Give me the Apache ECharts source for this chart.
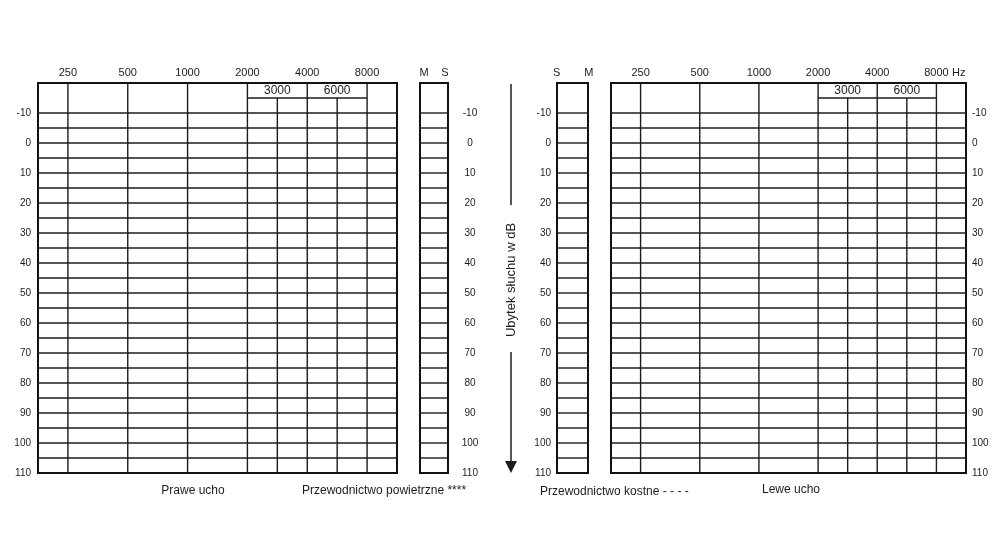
<!DOCTYPE html>
<html><head><meta charset="utf-8">
<script src="https://cdn.jsdelivr.net/npm/echarts@6/dist/echarts.min.js"></script>
<style>html,body{margin:0;padding:0;background:#fff}#c{width:1000px;height:546px}</style>
</head><body><div id="c"></div>
<script>
// ---- data ----
const freqLabels = ['250', '500', '1000', '2000', '4000', '8000'];
const freqPos = [0, 1, 2, 3, 4, 5];
const halfFreqLabels = ['3000', '6000'];
const halfFreqPos = [3.5, 4.5];
const headerSpan = [3, 5];          // header row spans 2000..8000
const gridLevels = [-10, -5, 0, 5, 10, 15, 20, 25, 30, 35, 40, 45, 50, 55, 60, 65, 70, 75, 80, 85, 90, 95, 100, 105];
const headerLevel = -15;
const headerLabelLevel = -17.5;
const dbMin = -20, dbMax = 110, dbStep = 10;
const leftStripLabels = ['M', 'S'];
const rightStripLabels = ['S', 'M'];

const FONT = 'Liberation Sans, Arial, sans-serif';
const INK = '#1c1c1c';
const LW = 1.4;

function hLines(xi, yi, x0, x1, levels) {
  return {
    type: 'custom', xAxisIndex: xi, yAxisIndex: yi, silent: true,
    data: levels.map(v => [v]),
    renderItem: (params, api) => {
      const v = api.value(0);
      const a = api.coord([x0, v]), b = api.coord([x1, v]);
      return { type: 'line', shape: { x1: a[0], y1: a[1], x2: b[0], y2: b[1] }, style: { stroke: INK, lineWidth: LW } };
    }
  };
}
function vLines(xi, yi, items) {
  return {
    type: 'custom', xAxisIndex: xi, yAxisIndex: yi, silent: true,
    data: items,
    renderItem: (params, api) => {
      const a = api.coord([api.value(0), api.value(1)]), b = api.coord([api.value(0), dbMax]);
      return { type: 'line', shape: { x1: a[0], y1: a[1], x2: b[0], y2: b[1] }, style: { stroke: INK, lineWidth: LW } };
    }
  };
}
function headerLabels(xi, yi) {
  return {
    type: 'scatter', xAxisIndex: xi, yAxisIndex: yi, silent: true, symbolSize: 0,
    itemStyle: { opacity: 1 },
    data: halfFreqPos.map(p => [p, headerLabelLevel]),
    label: { show: true, position: 'inside', formatter: p => halfFreqLabels[p.dataIndex],
      fontFamily: FONT, fontSize: 12, color: INK, opacity: 1, textBorderWidth: 0 }
  };
}
function yAx(gi, pos, labelOpt) {
  return {
    gridIndex: gi, type: 'value', min: dbMin, max: dbMax, interval: dbStep, inverse: true, position: pos,
    axisLine: { show: false }, axisTick: { show: false }, splitLine: { show: false },
    axisLabel: Object.assign({ showMinLabel: false, fontFamily: FONT, fontSize: 10, color: INK }, labelOpt)
  };
}
function catAx(gi, data, labelOpt) {
  return {
    gridIndex: gi, type: 'category', position: 'top', data: data, boundaryGap: true,
    axisLine: { show: false }, axisTick: { show: false }, splitLine: { show: false },
    axisLabel: Object.assign({ interval: 0, margin: 5, fontFamily: FONT, fontSize: 11, color: INK }, labelOpt)
  };
}
function valAx(gi, min, max) {
  return { gridIndex: gi, type: 'value', min: min, max: max, position: 'bottom', show: false };
}
const gridBase = { top: 83, height: 390, show: true, borderColor: '#111', borderWidth: 2, backgroundColor: 'transparent', outerBoundsMode: 'none', containLabel: false };

const mainV = freqPos.map(p => [p, dbMin]).concat(halfFreqPos.map(p => [p, headerLevel]));

const option = {
  animation: false,
  backgroundColor: '#fff',
  grid: [
    Object.assign({ left: 38, width: 359 }, gridBase),
    Object.assign({ left: 420, width: 28 }, gridBase),
    Object.assign({ left: 557, width: 31 }, gridBase),
    Object.assign({ left: 611, width: 355 }, gridBase)
  ],
  xAxis: [
    valAx(0, -0.5, 5.5),
    catAx(0, freqLabels, {}),
    valAx(1, 0, 1),
    catAx(1, leftStripLabels, {
      formatter: (v, i) => i === 0 ? '{a|' + v + '}' : '{b|' + v + '}',
      rich: { a: { padding: [0, 6, 0, 0], fontFamily: FONT, fontSize: 11, color: INK },
              b: { padding: [0, 0, 0, 8], fontFamily: FONT, fontSize: 11, color: INK } }
    }),
    valAx(2, 0, 1),
    catAx(2, rightStripLabels, {
      formatter: (v, i) => i === 0 ? '{a|' + v + '}' : '{b|' + v + '}',
      rich: { a: { padding: [0, 16, 0, 0], fontFamily: FONT, fontSize: 11, color: INK },
              b: { padding: [0, 0, 0, 17], fontFamily: FONT, fontSize: 11, color: INK } }
    }),
    valAx(3, -0.5, 5.5),
    catAx(3, freqLabels, {})
  ],
  yAxis: [
    yAx(0, 'left', { margin: 7 }),
    yAx(1, 'right', { margin: 22, align: 'center' }),
    yAx(2, 'left', { margin: 6 }),
    yAx(3, 'right', { margin: 6 })
  ],
  series: [
    hLines(0, 0, -0.5, 5.5, gridLevels),
    hLines(0, 0, headerSpan[0], headerSpan[1], [headerLevel]),
    vLines(0, 0, mainV),
    headerLabels(0, 0),
    hLines(2, 1, 0, 1, gridLevels),
    hLines(4, 2, 0, 1, gridLevels),
    hLines(6, 3, -0.5, 5.5, gridLevels),
    hLines(6, 3, headerSpan[0], headerSpan[1], [headerLevel]),
    vLines(6, 3, mainV),
    headerLabels(6, 3)
  ],
  graphic: [
    { type: 'text', left: 952, top: 67, style: { text: 'Hz', font: '11px ' + FONT, fill: INK } },
    { type: 'line', shape: { x1: 511, y1: 84, x2: 511, y2: 205 }, style: { stroke: INK, lineWidth: 1.5 } },
    { type: 'line', shape: { x1: 511, y1: 352, x2: 511, y2: 463 }, style: { stroke: INK, lineWidth: 1.5 } },
    { type: 'polygon', shape: { points: [[505, 461], [517, 461], [511, 473]] }, style: { fill: INK } },
    { type: 'text', x: 511, y: 280, rotation: Math.PI / 2,
      style: { text: 'Ubytek słuchu w dB', font: '13px ' + FONT, fill: INK, align: 'center', verticalAlign: 'middle' } },
    { type: 'text', x: 193, y: 491, style: { text: 'Prawe ucho', font: '12px ' + FONT, fill: INK, align: 'center', verticalAlign: 'middle' } },
    { type: 'text', x: 302, y: 491, style: { text: 'Przewodnictwo powietrzne ****', font: '12px ' + FONT, fill: INK, align: 'left', verticalAlign: 'middle' } },
    { type: 'text', x: 540, y: 492, style: { text: 'Przewodnictwo kostne - - - -', font: '12px ' + FONT, fill: INK, align: 'left', verticalAlign: 'middle' } },
    { type: 'text', x: 791, y: 490, style: { text: 'Lewe ucho', font: '12px ' + FONT, fill: INK, align: 'center', verticalAlign: 'middle' } }
  ]
};
const chart = echarts.init(document.getElementById('c'), null, { renderer: 'canvas' });
chart.setOption(option);
</script>
</body></html>
